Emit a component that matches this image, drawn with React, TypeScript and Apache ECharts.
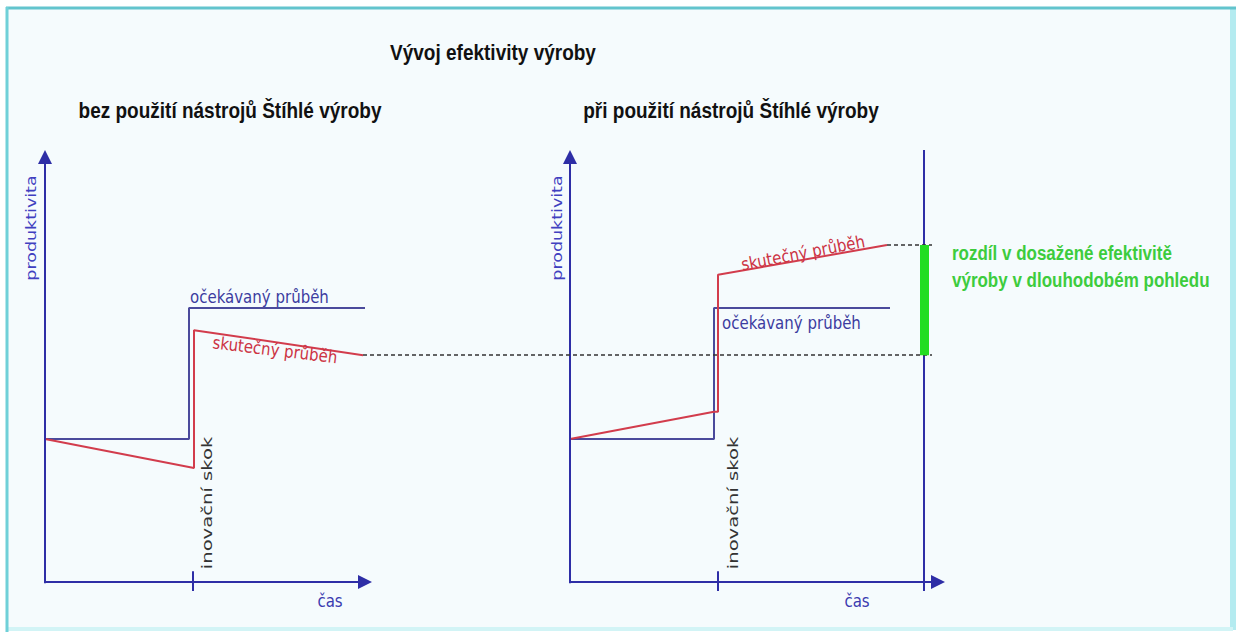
import React, { useEffect, useRef } from "react";
import * as echarts from "echarts";

// Coordinate system: x = time (0..90 across both panels), y = productivity (-5..100)
const expectedWithout: [number, number][] = [[0, 33.1], [14.4, 33.1], [14.4, 63.4], [32.0, 63.4]];
const actualWithout: [number, number][] = [[0, 33.1], [14.9, 26.4], [14.9, 58.3], [31.8, 52.5]];
const expectedWith: [number, number][] = [[52.5, 33.1], [66.9, 33.1], [66.9, 63.4], [84.5, 63.4]];
const actualWith: [number, number][] = [[52.5, 33.1], [66.9, 39.4], [67.3, 39.4], [67.3, 71.1], [84.2, 78.0]];

const leftOriginX = 0;
const leftAxisEndX = 32.0;
const rightOriginX = 52.5;
const rightAxisEndX = 89.3;
const axisTopY = 98.4;
const innovationTicks = [14.8, 67.3];
const horizonX = 87.9;
const horizonTopY = 100;
const gapLow = 52.5;
const gapHigh = 78.0;
const dashEndX = 88.7;

const AXIS = "#2e2ea6";
const BLUE = "#4a4a9c";
const RED = "#d23c4c";
const GREEN = "#22dd22";

export default function App() {
  const ref = useRef<HTMLDivElement>(null);
  useEffect(() => {
    if (!ref.current) return;
    const chart = echarts.init(ref.current, undefined, { renderer: "svg" });
    const sans = '"DejaVu Sans", Verdana, sans-serif';
    const bold = '"Liberation Sans", Arial, sans-serif';
    const SY = 1.15;
    const arrowLine = (a: [number, number], b: [number, number]) => [
      { coord: a, symbol: "none" },
      { coord: b, symbol: "triangle", symbolSize: 14 },
    ];
    const plainLine = (a: [number, number], b: [number, number]) => [
      { coord: a, symbol: "none" },
      { coord: b, symbol: "none" },
    ];
    const option: any = {
      animation: false,
      backgroundColor: "#ffffff",
      grid: { left: 45, top: 150, width: 900, height: 453.6 },
      xAxis: { type: "value", min: 0, max: 90, show: false },
      yAxis: { type: "value", min: -5, max: 100, show: false },
      graphic: [
        { type: "rect", z: 0, shape: { x: 6, y: 7, width: 1227, height: 623 }, style: { fill: "#f5fbfd" } },
        { type: "line", z: 1, shape: { x1: 1233, y1: 7, x2: 1233, y2: 630 }, style: { stroke: "#b4ebf0", lineWidth: 6 } },
        { type: "line", z: 1, shape: { x1: 6, y1: 629, x2: 1233, y2: 629 }, style: { stroke: "#d2f4f6", lineWidth: 4 } },
        { type: "line", z: 1, shape: { x1: 6, y1: 8, x2: 1236, y2: 8 }, style: { stroke: "#62c4cd", lineWidth: 3 } },
        { type: "line", z: 1, shape: { x1: 7, y1: 7, x2: 7, y2: 632 }, style: { stroke: "#6fd0d8", lineWidth: 3 } },
        { type: "text", z: 10, x: 493, y: 52, scaleY: SY, style: { text: "Vývoj efektivity výroby", font: `bold 19px ${bold}`, fill: "#111", align: "center", verticalAlign: "middle" } },
        { type: "text", z: 10, x: 230, y: 110, scaleY: SY, style: { text: "bez použití nástrojů Štíhlé výroby", font: `bold 19px ${bold}`, fill: "#111", align: "center", verticalAlign: "middle" } },
        { type: "text", z: 10, x: 731, y: 110, scaleY: SY, style: { text: "při použití nástrojů Štíhlé výroby", font: `bold 19px ${bold}`, fill: "#111", align: "center", verticalAlign: "middle" } },
        { type: "text", z: 10, x: 190, y: 297, scaleY: SY, style: { text: "očekávaný průběh", font: `15px ${sans}`, fill: "#3c3ca0", align: "left", verticalAlign: "middle" } },
        { type: "text", z: 10, x: 722, y: 323, scaleY: SY, style: { text: "očekávaný průběh", font: `15px ${sans}`, fill: "#3c3ca0", align: "left", verticalAlign: "middle" } },
        { type: "text", z: 10, x: 275, y: 350, rotation: -0.12, scaleY: SY, style: { text: "skutečný průběh", font: `15px ${sans}`, fill: "#cc3344", align: "center", verticalAlign: "middle" } },
        { type: "text", z: 10, x: 803, y: 253, rotation: 0.19, scaleY: SY, style: { text: "skutečný průběh", font: `15px ${sans}`, fill: "#cc3344", align: "center", verticalAlign: "middle" } },
        { type: "text", z: 10, x: 31, y: 228, rotation: Math.PI / 2, scaleX: 1.25, style: { text: "produktivita", font: `14px ${sans}`, fill: "#4040c0", align: "center", verticalAlign: "middle" } },
        { type: "text", z: 10, x: 557, y: 228, rotation: Math.PI / 2, scaleX: 1.25, style: { text: "produktivita", font: `14px ${sans}`, fill: "#4040c0", align: "center", verticalAlign: "middle" } },
        { type: "text", z: 10, x: 207, y: 503, rotation: Math.PI / 2, scaleX: 1.4, style: { text: "inovační skok", font: `14px ${sans}`, fill: "#333", align: "center", verticalAlign: "middle" } },
        { type: "text", z: 10, x: 733, y: 503, rotation: Math.PI / 2, scaleX: 1.4, style: { text: "inovační skok", font: `14px ${sans}`, fill: "#333", align: "center", verticalAlign: "middle" } },
        { type: "text", z: 10, x: 330, y: 601, scaleY: SY, style: { text: "čas", font: `15px ${sans}`, fill: "#3b3bb0", align: "center", verticalAlign: "middle" } },
        { type: "text", z: 10, x: 857, y: 601, scaleY: SY, style: { text: "čas", font: `15px ${sans}`, fill: "#3b3bb0", align: "center", verticalAlign: "middle" } },
        { type: "text", z: 10, x: 952, y: 253, scaleY: SY, style: { text: "rozdíl v dosažené efektivitě", font: `bold 17px ${bold}`, fill: "#3dcc3d", align: "left", verticalAlign: "middle" } },
        { type: "text", z: 10, x: 952, y: 280, scaleY: SY, style: { text: "výroby v dlouhodobém pohledu", font: `bold 17px ${bold}`, fill: "#3dcc3d", align: "left", verticalAlign: "middle" } },
      ],
      series: [
        {
          name: "očekávaný průběh (bez)",
          type: "line",
          data: expectedWithout,
          showSymbol: false,
          z: 3,
          lineStyle: { color: BLUE, width: 2 },
          markLine: {
            silent: true,
            animation: false,
            label: { show: false },
            lineStyle: { color: AXIS, width: 2, type: "solid" },
            data: [
              arrowLine([leftOriginX, -0.3], [leftOriginX, axisTopY]),
              arrowLine([leftOriginX, 0], [leftAxisEndX, 0]),
              arrowLine([rightOriginX, -0.3], [rightOriginX, axisTopY]),
              arrowLine([rightOriginX, 0], [rightAxisEndX, 0]),
              ...innovationTicks.map((t) => plainLine([t, -2.1], [t, 2.5])),
              plainLine([horizonX, -2.1], [horizonX, horizonTopY]),
            ],
          },
        },
        {
          name: "skutečný průběh (bez)",
          type: "line",
          data: actualWithout,
          showSymbol: false,
          z: 4,
          lineStyle: { color: RED, width: 2 },
          markLine: {
            silent: true,
            animation: false,
            label: { show: false },
            lineStyle: { color: "#333333", width: 1.5, type: [4, 3] },
            data: [
              plainLine([actualWithout[actualWithout.length - 1][0], gapLow], [dashEndX, gapLow]),
              plainLine([actualWith[actualWith.length - 1][0], gapHigh], [dashEndX, gapHigh]),
            ],
          },
        },
        {
          name: "očekávaný průběh (s)",
          type: "line",
          data: expectedWith,
          showSymbol: false,
          z: 3,
          lineStyle: { color: BLUE, width: 2 },
        },
        {
          name: "skutečný průběh (s)",
          type: "line",
          data: actualWith,
          showSymbol: false,
          z: 4,
          lineStyle: { color: RED, width: 2 },
          markLine: {
            silent: true,
            animation: false,
            label: { show: false },
            lineStyle: { color: GREEN, width: 9, type: "solid", opacity: 1 },
            data: [plainLine([horizonX, gapLow], [horizonX, gapHigh])],
          },
        },
      ],
    };
    chart.setOption(option);
    return () => chart.dispose();
  }, []);
  return (
    <div
      ref={ref}
      style={{ position: "fixed", left: 0, top: 0, width: 1237, height: 632, background: "#fff" }}
    />
  );
}
